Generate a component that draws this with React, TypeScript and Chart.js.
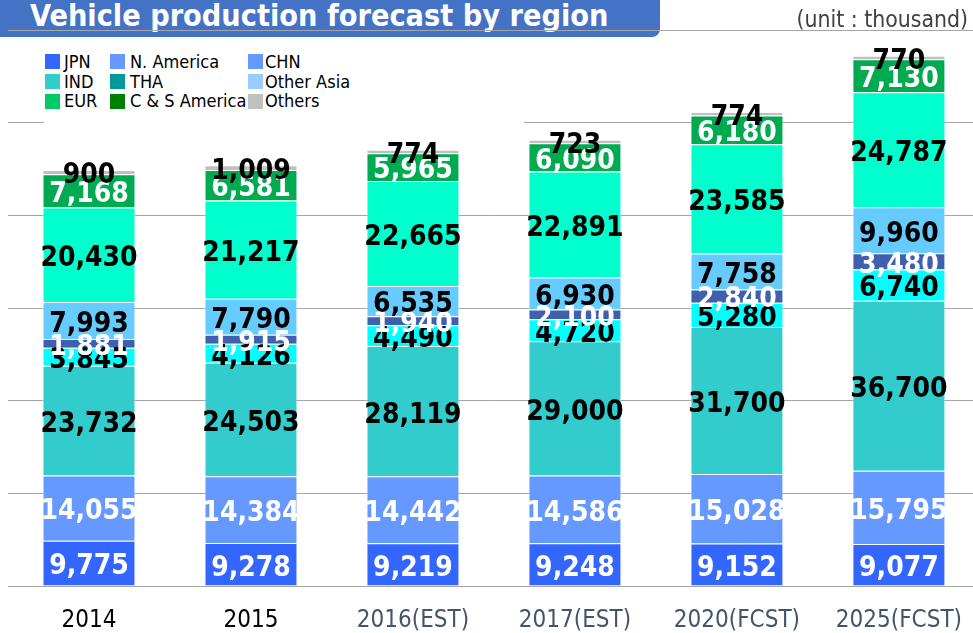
import React, { useEffect, useRef } from 'react';
import { Chart, registerables } from 'chart.js';

Chart.register(...registerables);

const categories = ['2014', '2015', '2016(EST)', '2017(EST)', '2020(FCST)', '2025(FCST)'];
const tickColors = ['#000000', '#000000', '#44546A', '#44546A', '#44546A', '#44546A'];

const jpn = [9775, 9278, 9219, 9248, 9152, 9077];
const nAmerica = [14055, 14384, 14442, 14586, 15028, 15795];
const chn = [23732, 24503, 28119, 29000, 31700, 36700];
const ind = [3845, 4126, 4490, 4720, 5280, 6740];
const tha = [1881, 1915, 1940, 2100, 2840, 3480];
const otherAsia = [7993, 7790, 6535, 6930, 7758, 9960];
const eur = [20430, 21217, 22665, 22891, 23585, 24787];
const csAmerica = [7168, 6581, 5965, 6090, 6180, 7130];
const others = [900, 1009, 774, 723, 774, 770];

const seriesNames = ['JPN', 'N. America', 'CHN', 'IND', 'THA', 'Other Asia', 'EUR', 'C & S America', 'Others'];
const seriesData = [jpn, nAmerica, chn, ind, tha, otherAsia, eur, csAmerica, others];
const barColors = ['#3366FF', '#6699FF', '#33CCCC', '#00FFFF', '#3F60AE', '#66CCFF', '#00FFCC', '#00AA50', '#C0C0C0'];
const labelColors = ['#FFFFFF', '#FFFFFF', '#000000', '#000000', '#FFFFFF', '#000000', '#000000', '#FFFFFF', '#000000'];
const legendColors = ['#3366FF', '#6699FF', '#6699FF', '#33CCCC', '#009999', '#99CCFF', '#00CC66', '#008000', '#C0C0C0'];

const FONT = '"DejaVu Sans Condensed", "DejaVu Sans", sans-serif';

const legendCols = [
  { sx: 45, tx: 64 },
  { sx: 110, tx: 130 },
  { sx: 248, tx: 265 },
];
const legendRows = [61.5, 81.5, 101];

export default function App() {
  const ref = useRef<HTMLCanvasElement>(null);

  useEffect(() => {
    const labelPlugin = {
      id: 'segLabels',
      afterDatasetsDraw(chart: any) {
        const ctx = chart.ctx;
        ctx.save();
        ctx.font = `bold 28px ${FONT}`;
        ctx.textAlign = 'center';
        ctx.textBaseline = 'middle';
        chart.data.datasets.forEach((ds: any, i: number) => {
          const meta = chart.getDatasetMeta(i);
          meta.data.forEach((el: any, j: number) => {
            const v = ds.data[j] as number;
            const y = (el.y + el.base) / 2;
            ctx.fillStyle = labelColors[i];
            ctx.fillText(v.toLocaleString('en-US'), el.x, y + 4);
          });
        });
        ctx.restore();
      },
    };

    const chart = new Chart(ref.current as HTMLCanvasElement, {
      type: 'bar',
      data: {
        labels: categories,
        datasets: seriesNames.map((name, i) => ({
          label: name,
          data: seriesData[i],
          backgroundColor: barColors[i],
          borderColor: 'rgba(255,255,255,0.45)',
          borderWidth: 1,
          barPercentage: 1,
          categoryPercentage: 0.574,
        })),
      },
      options: {
        responsive: false,
        animation: false,
        layout: { padding: { top: 22, left: 0, right: 0, bottom: 0 } },
        plugins: { legend: { display: false }, tooltip: { enabled: false } },
        scales: {
          x: {
            stacked: true,
            grid: { display: false, drawTicks: false },
            border: { display: false },
            ticks: {
              color: (c: any) => tickColors[c.index] || '#000',
              font: { family: FONT, size: 24 },
              padding: 20,
              maxRotation: 0,
              autoSkip: false,
            },
            afterFit: (s: any) => {
              s.height = 47;
            },
          },
          y: {
            stacked: true,
            min: 0,
            max: 120000,
            ticks: { display: false, stepSize: 20000 },
            grid: { color: '#A6A6A6', drawTicks: false, lineWidth: 1 },
            border: { display: false },
            afterFit: (s: any) => {
              s.width = 0;
            },
          },
        },
      },
      plugins: [labelPlugin],
    });
    return () => chart.destroy();
  }, []);

  return (
    <div style={{ position: 'absolute', left: 0, top: 0, width: 973, height: 633, overflow: 'hidden', background: '#fff' }}>
      <div
        style={{
          position: 'absolute',
          left: 0,
          top: 0,
          width: 660,
          height: 37,
          background: '#4472C4',
          borderBottomRightRadius: 8,
          zIndex: 0,
        }}
      />
      <div
        style={{
          position: 'absolute',
          left: 30,
          top: 0,
          height: 37,
          lineHeight: '31px',
          fontFamily: FONT,
          fontWeight: 'bold',
          fontSize: 30.3,
          color: '#FFFFFF',
          whiteSpace: 'nowrap',
          zIndex: 0,
        }}
      >
        Vehicle production forecast by region
      </div>
      <div style={{ position: 'absolute', left: 8, top: 8, width: 965, height: 625, overflow: 'hidden', zIndex: 1 }}>
        <canvas ref={ref} width={974} height={625} style={{ display: 'block', width: 974, height: 625 }} />
      </div>
      <div style={{ position: 'absolute', left: 44, top: 40, width: 480, height: 86, background: '#FFFFFF', zIndex: 2 }} />
      {seriesNames.map((name, i) => {
        const col = legendCols[i % 3];
        const rowY = legendRows[Math.floor(i / 3)];
        return (
          <React.Fragment key={name}>
            <div
              style={{
                position: 'absolute',
                left: col.sx,
                top: rowY - 7.5,
                width: 15,
                height: 15,
                background: legendColors[i],
                zIndex: 3,
              }}
            />
            <div
              style={{
                position: 'absolute',
                left: col.tx,
                top: rowY - 10,
                height: 20,
                lineHeight: '20px',
                fontFamily: FONT,
                fontSize: 18,
                color: '#000000',
                whiteSpace: 'nowrap',
                zIndex: 3,
              }}
            >
              {name}
            </div>
          </React.Fragment>
        );
      })}
      <div
        style={{
          position: 'absolute',
          right: 5,
          top: 7,
          height: 24,
          lineHeight: '24px',
          fontFamily: FONT,
          fontSize: 22.8,
          color: '#404040',
          whiteSpace: 'nowrap',
          zIndex: 3,
        }}
      >
        (unit : thousand)
      </div>
    </div>
  );
}
